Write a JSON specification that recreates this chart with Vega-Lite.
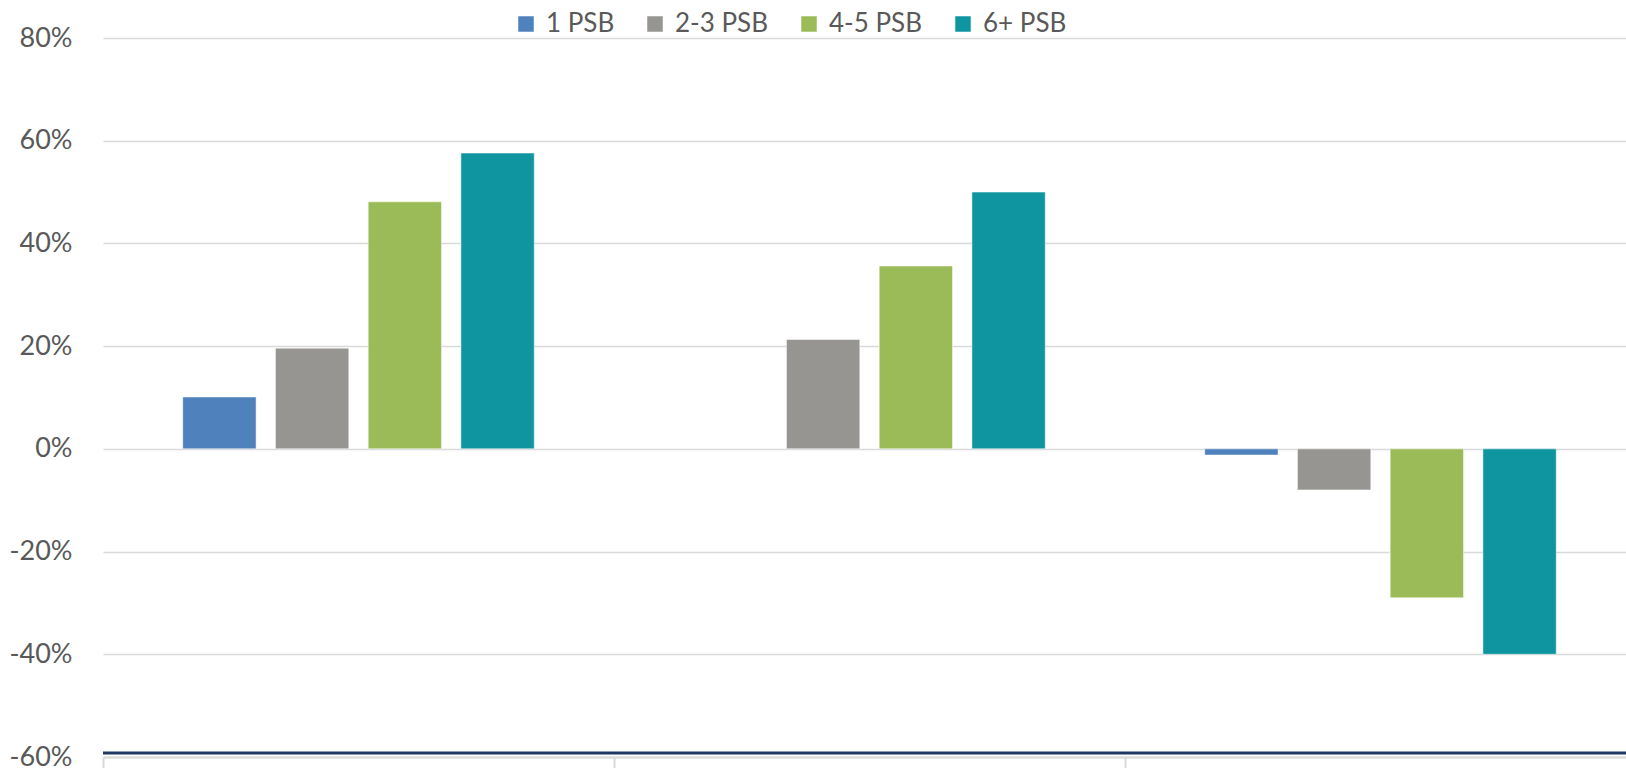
{
  "$schema": "https://vega.github.io/schema/vega-lite/v6.json",
  "width": 1523,
  "height": 719,
  "autosize": {"type": "none"},
  "padding": {"left": 103, "top": 38, "right": 0, "bottom": 11},
  "background": "white",
  "config": {"view": {"stroke": null}, "font": "Lato"},
  "layer": [
    {
      "data": {
        "values": [
          {"category": "Category 1", "size": "1 PSB", "change": 0.101},
          {"category": "Category 1", "size": "2-3 PSB", "change": 0.196},
          {"category": "Category 1", "size": "4-5 PSB", "change": 0.481},
          {"category": "Category 1", "size": "6+ PSB", "change": 0.576},
          {"category": "Category 2", "size": "2-3 PSB", "change": 0.213},
          {"category": "Category 2", "size": "4-5 PSB", "change": 0.356},
          {"category": "Category 2", "size": "6+ PSB", "change": 0.5},
          {"category": "Category 3", "size": "1 PSB", "change": -0.012},
          {"category": "Category 3", "size": "2-3 PSB", "change": -0.08},
          {"category": "Category 3", "size": "4-5 PSB", "change": -0.29},
          {"category": "Category 3", "size": "6+ PSB", "change": -0.4}
        ]
      },
      "mark": {"type": "bar", "stroke": "white", "strokeOpacity": 0.5, "strokeWidth": 1},
      "encoding": {
        "x": {
          "field": "category",
          "type": "nominal",
          "sort": null,
          "scale": {"range": [0, 1533], "paddingInner": 0, "paddingOuter": 0},
          "axis": {
            "title": null,
            "labels": false,
            "bandPosition": 0,
            "grid": false,
            "domainColor": "#D9D9D9",
            "domainWidth": 2,
            "tickColor": "#D9D9D9",
            "tickWidth": 2,
            "tickSize": 14
          }
        },
        "xOffset": {
          "field": "size",
          "type": "nominal",
          "scale": {
            "domain": ["1 PSB", "2-3 PSB", "4-5 PSB", "6+ PSB"],
            "paddingInner": 0.209,
            "paddingOuter": 0.86
          }
        },
        "y": {
          "field": "change",
          "type": "quantitative",
          "title": null,
          "scale": {"domain": [-0.6, 0.8], "nice": false, "zero": false},
          "axis": {
            "title": null,
            "values": [-0.6, -0.4, -0.2, 0, 0.2, 0.4, 0.6, 0.8],
            "format": ".0%",
            "labelExpr": "replace(datum.label, '−', '-')",
            "labelFontSize": 27,
            "labelColor": "#595959",
            "labelPadding": 31,
            "domain": false,
            "ticks": false,
            "gridColor": "#D9D9D9",
            "gridWidth": 1.5
          }
        },
        "color": {
          "field": "size",
          "type": "nominal",
          "scale": {
            "domain": ["1 PSB", "2-3 PSB", "4-5 PSB", "6+ PSB"],
            "range": ["#4F81BD", "#969592", "#9BBB59", "#0F95A0"]
          },
          "legend": {
            "title": null,
            "orient": "none",
            "legendX": 410,
            "legendY": -27,
            "direction": "horizontal",
            "symbolType": "square",
            "symbolSize": 240,
            "symbolStrokeWidth": 0,
            "labelFontSize": 26,
            "labelColor": "#595959",
            "labelOffset": 7,
            "columnPadding": 27,
            "padding": 0
          }
        }
      }
    },
    {
      "data": {"values": [{"level": -0.592}]},
      "mark": {"type": "rule", "color": "#203864", "strokeWidth": 3},
      "encoding": {
        "y": {"field": "level", "type": "quantitative", "title": null}
      }
    }
  ]
}
